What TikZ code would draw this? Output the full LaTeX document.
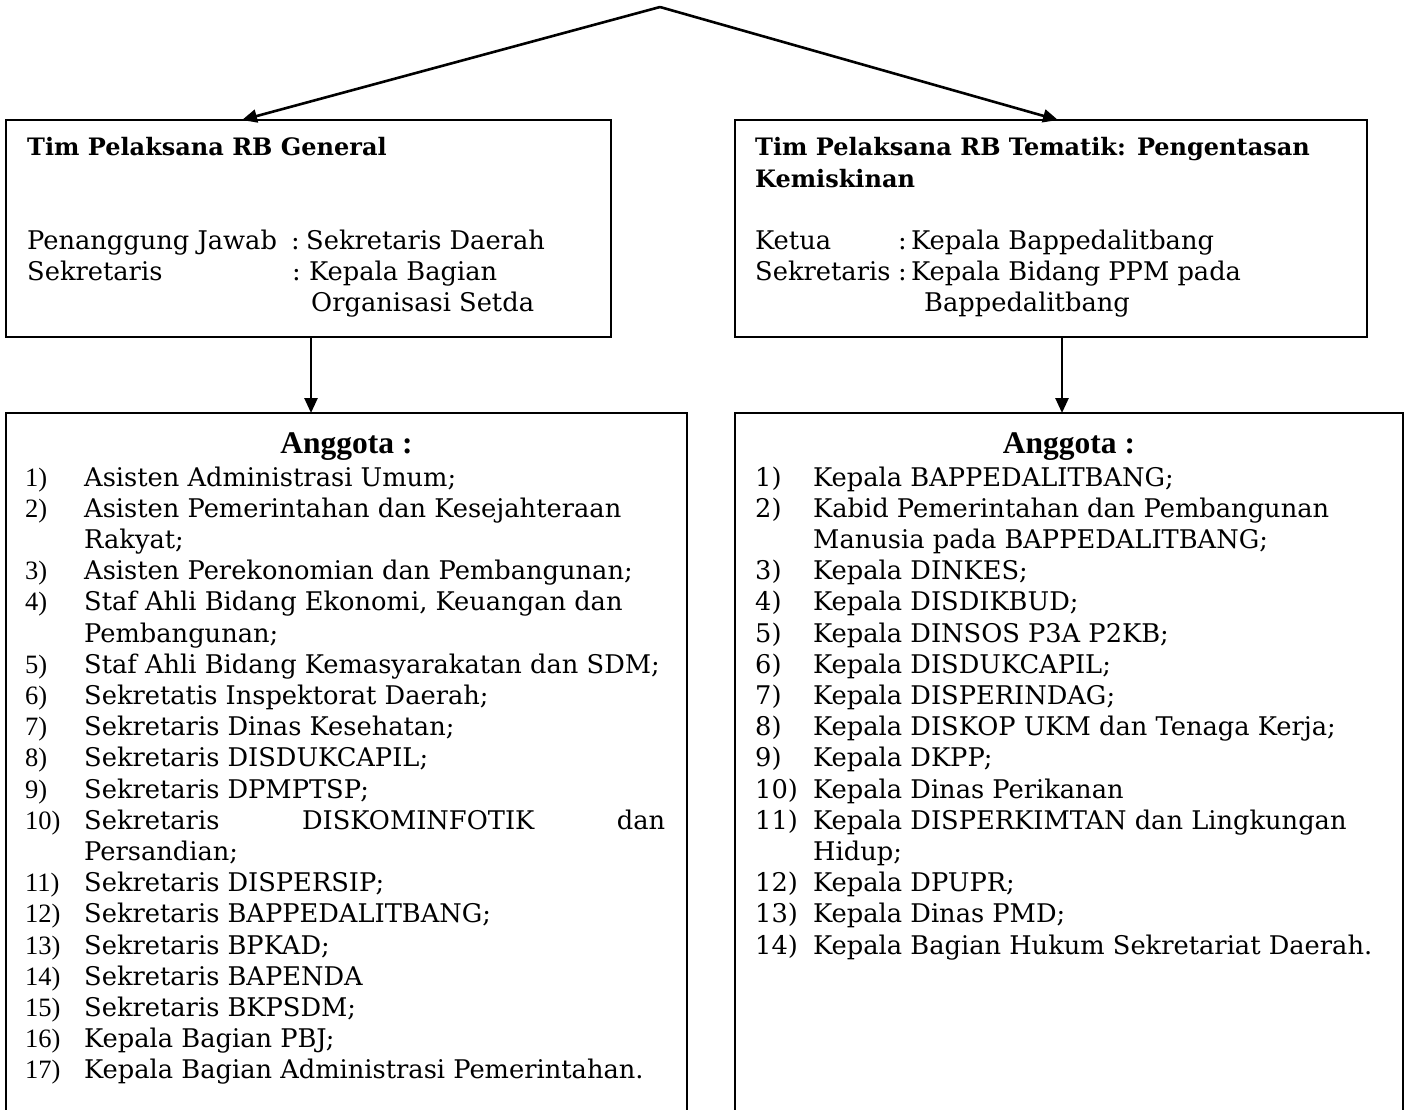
\documentclass[tikz,border=0pt]{standalone}
\usepackage{fontspec}
\setmainfont{DejaVu Serif}
\newfontfamily\numfont{Liberation Serif}
\usetikzlibrary{arrows.meta}

\tikzset{
  box/.style={draw, line width=2.6pt, inner sep=0pt, outer sep=0pt, anchor=north west},
  openbox/.style={inner sep=0pt, outer sep=0pt, anchor=north west},
  arr/.style={line width=2.6pt, -{Triangle[length=15pt,width=13pt]}},
  txt/.style={inner sep=0pt, anchor=base west, font=\fontsize{25.7}{31}\selectfont},
  head/.style={inner sep=0pt, anchor=base west, font=\fontsize{24}{31}\selectfont\bfseries},
  angg/.style={inner sep=0pt, anchor=base, font=\fontsize{31.5}{36}\numfont\bfseries},
  num/.style={inner sep=0pt, anchor=base west, font=\fontsize{26.5}{31}\numfont},
}

\begin{document}
\begin{tikzpicture}[x=1pt,y=-1pt]
  \useasboundingbox (0,0) rectangle (1412,1109);

  % boxes
  \node[box, minimum width=605pt, minimum height=217pt] (genBox) at (6,120) {};
  \node[box, minimum width=632pt, minimum height=217pt] (temBox) at (735,120) {};
  \node[openbox, minimum width=681pt, minimum height=700pt] (memL) at (6,413) {};
  \node[openbox, minimum width=668pt, minimum height=700pt] (memR) at (735,413) {};
  \draw[line width=2.6pt] (memL.south west) |- (memL.north east) -- (memL.south east);
  \draw[line width=2.6pt] (memR.south west) |- (memR.north east) -- (memR.south east);

  % connectors
  \coordinate (apex) at (660,7);
  \coordinate (genIn) at (242,120);
  \coordinate (temIn) at (1058,120);
  \draw[arr] (apex) -- (genIn);
  \draw[arr] (apex) -- (temIn);
  \draw[arr] (311,337) -- (311,413);
  \draw[arr] (1062,337) -- (1062,413);

  % Tim General
  \node[head] (genTitle) at (27,155) {Tim Pelaksana RB General};
  \node[txt] (genPjLbl) at (27,249) {Penanggung Jawab};
  \node[txt] (genPjCol) at (291,249) {:};
  \node[txt] (genPj) at (306,249) {Sekretaris Daerah};
  \node[txt] (genSekLbl) at (27,280) {Sekretaris};
  \node[txt] (genSekCol) at (292,280) {:};
  \node[txt] (genSek) at (309,280) {Kepala Bagian};
  \node[txt] (genSekB) at (311,311) {Organisasi Setda};

  % Tim Tematik
  \node[head] (temTitle) at (755,155) {Tim Pelaksana RB Tematik: Pengentasan};
  \node[head] (temTitleB) at (755,187) {Kemiskinan};
  \node[txt] (temKetLbl) at (755,249) {Ketua};
  \node[txt] (temKetCol) at (898,249) {:};
  \node[txt] (temKet) at (911,249) {Kepala Bappedalitbang};
  \node[txt] (temSekLbl) at (755,280) {Sekretaris};
  \node[txt] (temSekCol) at (898,280) {:};
  \node[txt] (temSek) at (911,280) {Kepala Bidang PPM pada};
  \node[txt] (temSekB) at (924,311) {Bappedalitbang};

  % anggota
  \node[angg] (memLHead) at (346.5,453) {Anggota :};
  \node[angg] (memRHead) at (1069,453) {Anggota :};

  \foreach \n/\t [count=\i] in {1)/{Asisten Administrasi Umum;},
      2)/{Asisten Pemerintahan dan Kesejahteraan}, {}/{Rakyat;},
      3)/{Asisten Perekonomian dan Pembangunan;},
      4)/{Staf Ahli Bidang Ekonomi, Keuangan dan}, {}/{Pembangunan;},
      5)/{Staf Ahli Bidang Kemasyarakatan dan SDM;},
      6)/{Sekretatis Inspektorat Daerah;},
      7)/{Sekretaris Dinas Kesehatan;},
      8)/{Sekretaris DISDUKCAPIL;},
      9)/{Sekretaris DPMPTSP;},
      10)/{\makebox[581pt][s]{Sekretaris DISKOMINFOTIK dan}}, {}/{Persandian;},
      11)/{Sekretaris DISPERSIP;},
      12)/{Sekretaris BAPPEDALITBANG;},
      13)/{Sekretaris BPKAD;},
      14)/{Sekretaris BAPENDA},
      15)/{Sekretaris BKPSDM;},
      16)/{Kepala Bagian PBJ;},
      17)/{Kepala Bagian Administrasi Pemerintahan.}} {
    \node[num] (memLn\i) at (25,{486+31.2*(\i-1)}) {\n};
    \node[txt] (memLt\i) at (84,{486+31.2*(\i-1)}) {\t};
  }

  \foreach \n/\t [count=\i] in {1)/{Kepala BAPPEDALITBANG;},
      2)/{Kabid Pemerintahan dan Pembangunan}, {}/{Manusia pada BAPPEDALITBANG;},
      3)/{Kepala DINKES;},
      4)/{Kepala DISDIKBUD;},
      5)/{Kepala DINSOS P3A P2KB;},
      6)/{Kepala DISDUKCAPIL;},
      7)/{Kepala DISPERINDAG;},
      8)/{Kepala DISKOP UKM dan Tenaga Kerja;},
      9)/{Kepala DKPP;},
      10)/{Kepala Dinas Perikanan},
      11)/{Kepala DISPERKIMTAN dan Lingkungan}, {}/{Hidup;},
      12)/{Kepala DPUPR;},
      13)/{Kepala Dinas PMD;},
      14)/{Kepala Bagian Hukum Sekretariat Daerah.}} {
    \node[txt] (memRn\i) at (755,{486+31.2*(\i-1)}) {\n};
    \node[txt] (memRt\i) at (813,{486+31.2*(\i-1)}) {\t};
  }
\end{tikzpicture}
\end{document}
